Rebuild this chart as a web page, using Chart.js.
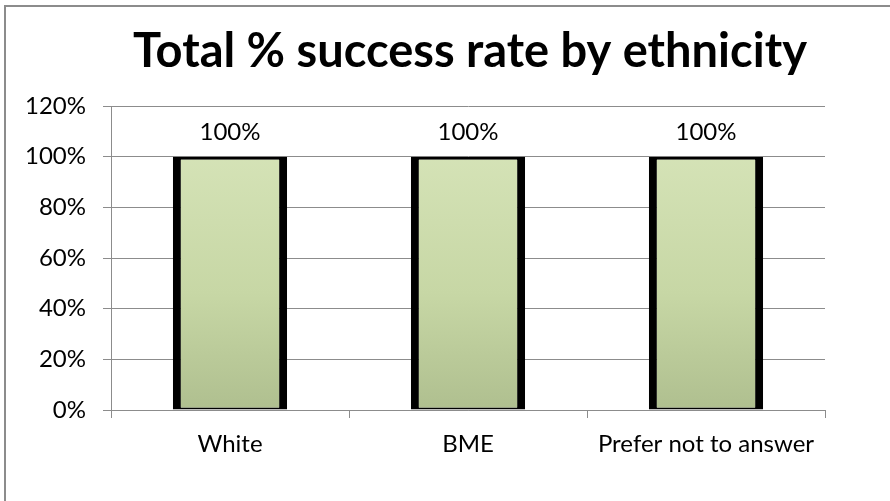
<!DOCTYPE html>
<html>
<head>
<meta charset="utf-8">
<script src="https://cdn.jsdelivr.net/npm/chart.js@4/dist/chart.umd.min.js"></script>
<style>
  html, body { margin: 0; padding: 0; background: #fff; }
  #wrap { width: 890px; height: 501px; }
</style>
</head>
<body>
<div id="wrap"><canvas id="successChart" width="890" height="501"></canvas></div>
<script>
// Data
const categories = ['White', 'BME', 'Prefer not to answer'];
const successRates = [100, 100, 100];
const yMax = 120;
const yStep = 20;
const chartTitle = 'Total % success rate by ethnicity';

const FONT = 'Lato, "Open Sans", sans-serif';
const GRID = '#8c8c8c';

// Frame lines (top and left edge only) plus a centred title over the plot
const framePlugin = {
    id: 'frame',
    beforeDraw: (chart) => {
        const { ctx, chartArea } = chart;
        ctx.save();
        ctx.fillStyle = '#fff';
        ctx.fillRect(0, 0, chart.width, chart.height);
        ctx.strokeStyle = GRID;
        ctx.lineWidth = 2;
        ctx.beginPath();
        ctx.moveTo(5, chart.height);
        ctx.lineTo(5, 6);
        ctx.lineTo(chart.width, 6);
        ctx.stroke();

        ctx.fillStyle = '#000';
        ctx.font = 'bold 47px ' + FONT;
        ctx.textAlign = 'center';
        ctx.textBaseline = 'alphabetic';
        ctx.fillText(chartTitle, (chartArea.left + chartArea.right) / 2 + 2, 67);
        ctx.restore();
    }
};

// Value labels above each bar
const valueLabels = {
    id: 'valueLabels',
    afterDatasetsDraw: (chart) => {
        const { ctx } = chart;
        const meta = chart.getDatasetMeta(0);
        ctx.save();
        ctx.fillStyle = '#000';
        ctx.font = '24px ' + FONT;
        ctx.textAlign = 'center';
        ctx.textBaseline = 'middle';
        meta.data.forEach((bar, i) => {
            ctx.fillText(successRates[i] + '%', bar.x, bar.y - 24);
        });
        ctx.restore();
    }
};

const ctx = document.getElementById('successChart').getContext('2d');

new Chart(ctx, {
    type: 'bar',
    plugins: [framePlugin, valueLabels],
    data: {
        labels: categories,
        datasets: [{
            data: successRates,
            backgroundColor: (c) => {
                const area = c.chart.chartArea;
                if (!area) return '#c9d9a6';
                const g = c.chart.ctx.createLinearGradient(0, area.top + 45, 0, area.bottom);
                g.addColorStop(0, '#d5e3b7');
                g.addColorStop(0.55, '#c7d7a5');
                g.addColorStop(1, '#afbf8f');
                return g;
            },
            borderColor: '#000',
            borderWidth: { left: 8, right: 8, top: 3, bottom: 2 },
            borderSkipped: false,
            barPercentage: 0.48,
            categoryPercentage: 1
        }]
    },
    options: {
        responsive: false,
        animation: false,
        layout: { padding: { top: 106, right: 65, left: 0, bottom: 0 } },
        plugins: {
            legend: { display: false },
            tooltip: { enabled: false }
        },
        scales: {
            x: {
                afterFit: (scale) => { scale.height = 91; },
                grid: {
                    offset: true,
                    drawOnChartArea: false,
                    tickLength: 8,
                    color: GRID
                },
                border: { color: GRID, width: 1 },
                ticks: { color: '#000', padding: 12, font: { family: FONT, size: 24 } }
            },
            y: {
                min: 0,
                max: yMax,
                afterFit: (scale) => { scale.width = 111; },
                grid: { color: GRID, tickLength: 8 },
                border: { color: GRID, width: 1 },
                ticks: {
                    stepSize: yStep,
                    color: '#000',
                    padding: 17,
                    font: { family: FONT, size: 24 },
                    callback: (v) => v + '%'
                }
            }
        }
    }
});
</script>
</body>
</html>
